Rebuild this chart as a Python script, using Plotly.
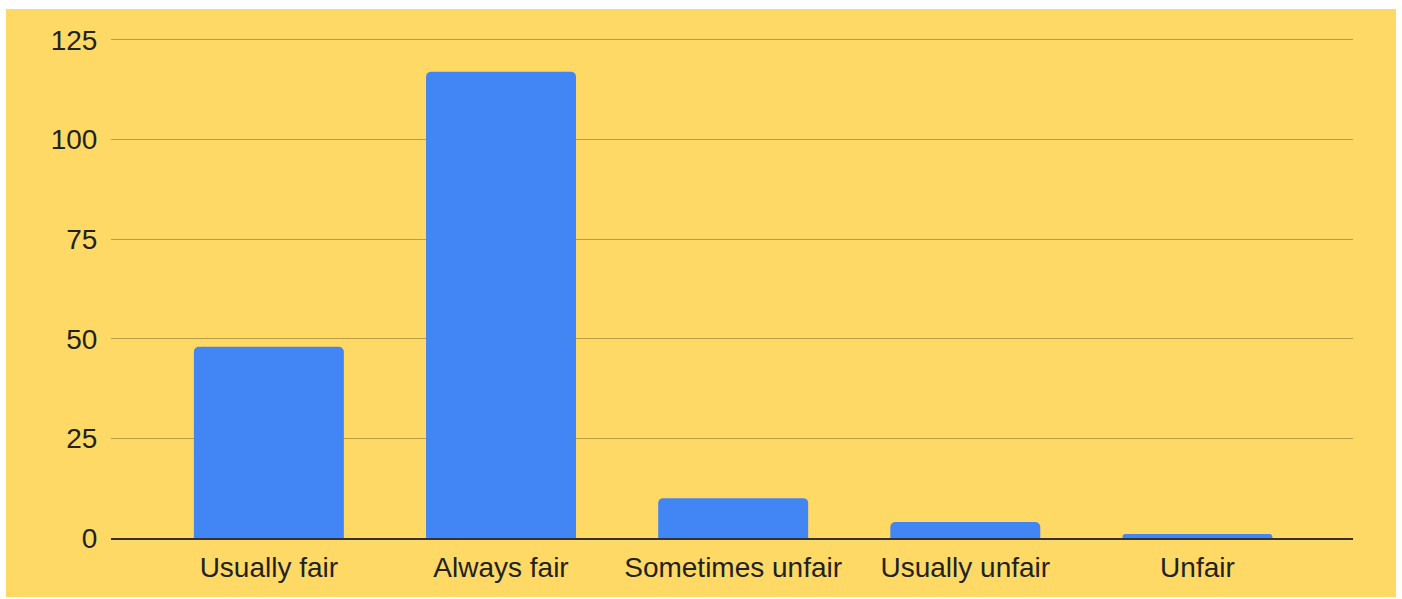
import plotly.graph_objects as go

categories = ["Usually fair", "Always fair", "Sometimes unfair", "Usually unfair", "Unfair"]
values = [48, 117, 10, 4, 1]
y_ticks = [0, 25, 50, 75, 100, 125]

YELLOW = "#FFD966"
BLUE = "#4285F4"
TEXT = "#222222"

W, H = 1402, 599
ml, mr, mt, mb = 111, 49, 38, 61
pw = W - ml - mr
ph = H - mt - mb

fig = go.Figure(
    go.Bar(
        x=list(range(len(categories))),
        y=values,
        marker=dict(color=BLUE, line=dict(width=0), cornerradius=5),
        width=0.646,
        hoverinfo="x+y",
    )
)

# yellow card with a thin white border around it
x0 = (6 - ml) / pw
x1 = (1396 - ml) / pw
y0 = -(597 - (H - mb)) / ph
y1 = ((H - mb) - 9) / ph
fig.add_shape(type="rect", xref="paper", yref="paper", x0=x0, x1=x1, y0=y0, y1=y1,
              fillcolor=YELLOW, line=dict(width=0), layer="below")

fig.update_layout(
    width=W, height=H,
    margin=dict(l=ml, r=mr, t=mt, b=mb, pad=0),
    paper_bgcolor="white",
    plot_bgcolor="rgba(0,0,0,0)",
    showlegend=False,
    font=dict(family="Liberation Sans, Arial, sans-serif", size=28, color=TEXT),
    xaxis=dict(
        tickmode="array",
        tickvals=list(range(len(categories))),
        ticktext=categories,
        range=[-0.68, 4.67],
        showgrid=False,
        zeroline=False,
        showline=True,
        linecolor="#333333",
        linewidth=2,
        ticks="outside",
        ticklen=3,
        tickcolor="rgba(0,0,0,0)",
        tickfont=dict(size=28, color=TEXT),
    ),
    yaxis=dict(
        range=[0, 125.5],
        tickmode="array",
        tickvals=y_ticks,
        ticktext=[str(v) for v in y_ticks],
        showgrid=True,
        gridcolor="rgba(90,75,30,0.42)",
        gridwidth=1,
        zeroline=False,
        showline=False,
        ticks="outside",
        ticklen=7,
        tickcolor="rgba(0,0,0,0)",
        tickfont=dict(size=28, color=TEXT),
    ),
)

fig.write_html(
    "out.html",
    config={"displayModeBar": False},
    post_script="document.body.style.margin='0';document.body.style.padding='0';document.body.style.overflow='hidden';",
)
